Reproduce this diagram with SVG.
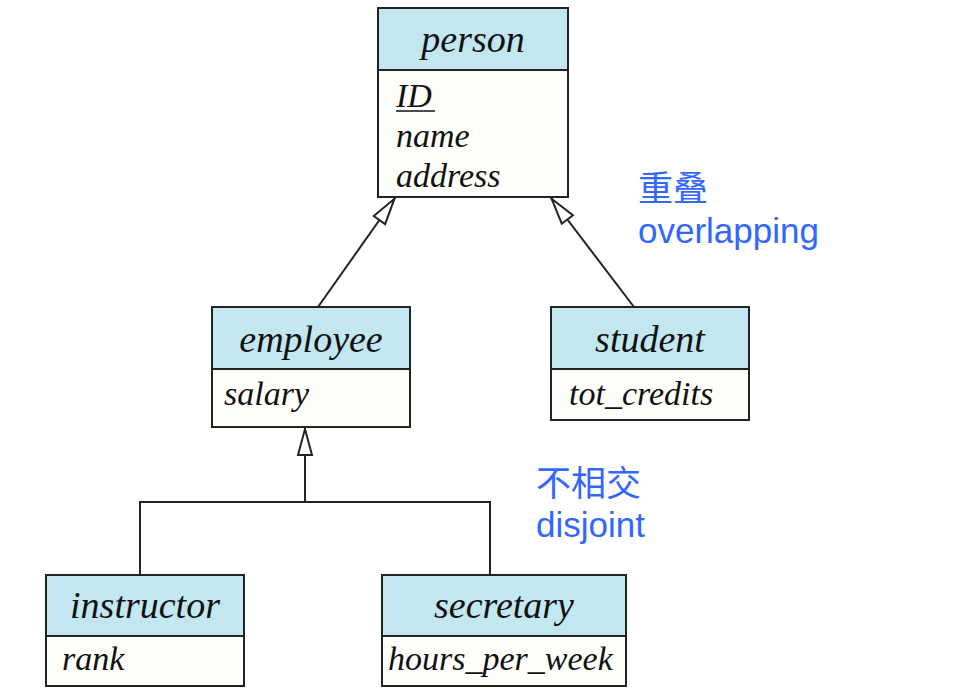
<svg xmlns="http://www.w3.org/2000/svg" width="953" height="693" viewBox="0 0 953 693">
<style>
.hdr{fill:#c2e7f1;stroke:#222;stroke-width:2}
.body{fill:#fefefa;stroke:#222;stroke-width:2}
.ht{font-family:"Liberation Serif",serif;font-style:italic;font-size:38px;fill:#111;text-anchor:middle}
.at{font-family:"Liberation Serif",serif;font-style:italic;font-size:34px;fill:#111}
.lbl{font-family:"Liberation Sans","Noto Sans CJK SC",sans-serif;font-size:35px;fill:#3366ff}
.cn{font-family:"Noto Sans CJK SC",sans-serif;font-size:35px;fill:#3366ff}
.conn{fill:none;stroke:#222;stroke-width:2}
</style>
<defs>
<marker id="tri" viewBox="0 0 28 16" refX="28" refY="8" markerWidth="28" markerHeight="16" markerUnits="userSpaceOnUse" orient="auto" overflow="visible">
<path d="M1,1 L27,8 L1,15 Z" fill="#fff" stroke="#222" stroke-width="2"/>
</marker>
</defs>
<rect width="953" height="693" fill="#fff"/>
<g id="connectors">
<path class="conn" d="M318,307 L395,198" marker-end="url(#tri)"/>
<path class="conn" d="M634,307 L551,198" marker-end="url(#tri)"/>
<path class="conn" d="M305,502 L305,428" marker-end="url(#tri)"/>
<path class="conn" d="M140,575 L140,502 L490,502 L490,575"/>
</g>
<g id="person">
<rect class="body" x="378" y="8" width="190" height="189"/>
<rect class="hdr" x="378" y="8" width="190" height="62"/>
<text class="ht" x="473" y="52">person</text>
<text class="at" x="396" y="107">ID</text>
<line x1="396" y1="111" x2="435" y2="111" stroke="#111" stroke-width="1.5"/>
<text class="at" x="396" y="147">name</text>
<text class="at" x="396" y="187">address</text>
</g>
<g id="employee">
<rect class="body" x="212" y="307" width="198" height="120"/>
<rect class="hdr" x="212" y="307" width="198" height="62"/>
<text class="ht" x="311" y="352">employee</text>
<text class="at" x="224" y="405">salary</text>
</g>
<g id="student">
<rect class="body" x="551" y="307" width="198" height="113"/>
<rect class="hdr" x="551" y="307" width="198" height="62"/>
<text class="ht" x="650" y="352">student</text>
<text class="at" x="569" y="405">tot_credits</text>
</g>
<g id="instructor">
<rect class="body" x="46" y="575" width="198" height="111"/>
<rect class="hdr" x="46" y="575" width="198" height="61"/>
<text class="ht" x="145" y="618">instructor</text>
<text class="at" x="62" y="670">rank</text>
</g>
<g id="secretary">
<rect class="body" x="382" y="575" width="244" height="111"/>
<rect class="hdr" x="382" y="575" width="244" height="61"/>
<text class="ht" x="504" y="618">secretary</text>
<text class="at" x="388" y="670">hours_per_week</text>
</g>
<g id="labels">
<text class="cn" x="638" y="201">重叠</text>
<text class="lbl" x="638" y="243">overlapping</text>
<text class="cn" x="536" y="496">不相交</text>
<text class="lbl" x="536" y="537">disjoint</text>
</g>
</svg>
